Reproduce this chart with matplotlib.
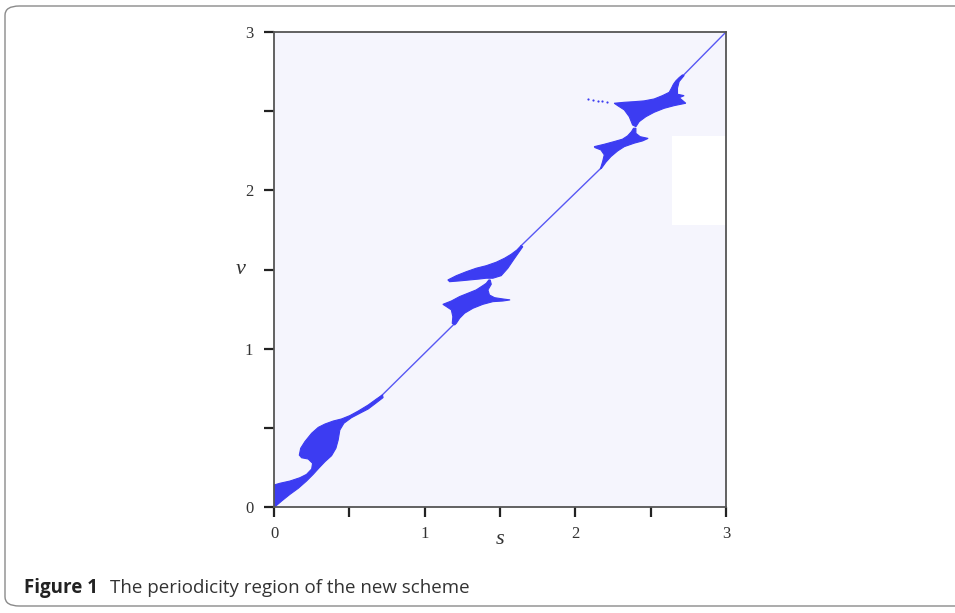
import numpy as np
import matplotlib.pyplot as plt
from matplotlib.patches import FancyBboxPatch, Rectangle

# outlines of the periodicity region as (s, v)
region_a_s = [0.000, 0.000, 0.040, 0.106, 0.172, 0.216, 0.250, 0.256, 0.227, 0.183,
              0.168, 0.177, 0.205, 0.250, 0.294, 0.338, 0.393, 0.448, 0.503, 0.559,
              0.625, 0.680, 0.720, 0.724, 0.675, 0.625, 0.570, 0.514, 0.464, 0.437,
              0.426, 0.411, 0.382, 0.338, 0.300, 0.260, 0.216, 0.161, 0.106, 0.051, 0.007]
region_a_v = [0.002, 0.139, 0.150, 0.164, 0.185, 0.206, 0.240, 0.276, 0.303, 0.311,
              0.328, 0.371, 0.413, 0.466, 0.503, 0.524, 0.543, 0.556, 0.577, 0.606,
              0.644, 0.682, 0.708, 0.691, 0.655, 0.619, 0.592, 0.564, 0.529, 0.486,
              0.423, 0.371, 0.324, 0.286, 0.248, 0.206, 0.164, 0.118, 0.080, 0.038, 0.002]

region_b1_s = [1.154, 1.210, 1.276, 1.342, 1.409, 1.475, 1.530, 1.574, 1.612, 1.640,
               1.651, 1.625, 1.589, 1.552, 1.508, 1.453, 1.409, 1.364, 1.298, 1.232, 1.166]
region_b1_v = [1.434, 1.461, 1.486, 1.508, 1.524, 1.546, 1.571, 1.596, 1.623, 1.651,
               1.644, 1.609, 1.560, 1.508, 1.461, 1.445, 1.445, 1.440, 1.434, 1.428, 1.423]

region_b2_s = [1.121, 1.177, 1.232, 1.287, 1.342, 1.386, 1.409, 1.426, 1.435, 1.442,
               1.420, 1.430, 1.464, 1.519, 1.567, 1.519, 1.453, 1.386, 1.320, 1.265,
               1.232, 1.210, 1.199, 1.183, 1.187, 1.177, 1.144]
region_b2_v = [1.280, 1.301, 1.329, 1.350, 1.371, 1.398, 1.413, 1.434, 1.434, 1.407,
               1.371, 1.339, 1.322, 1.314, 1.308, 1.301, 1.297, 1.280, 1.255, 1.224,
               1.192, 1.160, 1.150, 1.160, 1.202, 1.245, 1.266]

region_c1_s = [2.258, 2.325, 2.391, 2.457, 2.523, 2.578, 2.623, 2.638, 2.651, 2.667,
               2.689, 2.711, 2.722, 2.689, 2.678, 2.678, 2.722, 2.690, 2.733, 2.656,
               2.589, 2.523, 2.468, 2.424, 2.402, 2.380, 2.358, 2.325, 2.281]
region_c1_v = [2.550, 2.556, 2.560, 2.565, 2.577, 2.598, 2.619, 2.645, 2.670, 2.691,
               2.712, 2.729, 2.725, 2.687, 2.645, 2.607, 2.598, 2.585, 2.550, 2.535,
               2.518, 2.493, 2.465, 2.434, 2.402, 2.413, 2.465, 2.508, 2.535]

region_c2_s = [2.126, 2.192, 2.258, 2.313, 2.347, 2.373, 2.386, 2.402, 2.402, 2.430,
               2.483, 2.446, 2.391, 2.325, 2.281, 2.236, 2.203, 2.174, 2.166, 2.181,
               2.192, 2.170, 2.130]
region_c2_v = [2.276, 2.291, 2.308, 2.323, 2.344, 2.371, 2.392, 2.392, 2.360, 2.339,
               2.328, 2.312, 2.298, 2.276, 2.249, 2.213, 2.178, 2.140, 2.135, 2.181,
               2.224, 2.255, 2.270]

# thin strip along the diagonal between the blobs
strip_s = [[0.70, 1.19], [1.64, 2.17], [2.71, 3.00]]
strip_v = [[0.69, 1.15], [1.65, 2.14], [2.72, 3.00]]

# dotted tail left of the top blob
dots_s = [2.085, 2.118, 2.150, 2.180, 2.210]
dots_v = [2.578, 2.573, 2.567, 2.563, 2.560]

xticks = [0, 0.5, 1, 1.5, 2, 2.5, 3]
tick_labels = ['0', '', '1', '', '2', '', '3']

blue = '#3c3cf2'

fig = plt.figure(figsize=(9.55, 6.13), dpi=100)

# rounded frame round the figure and caption
frame = FancyBboxPatch((5 / 955, 7 / 613), 1.2, 600 / 613,
                       boxstyle='round,pad=0,rounding_size=0.015',
                       transform=fig.transFigure, fill=False,
                       edgecolor='#8a8a8a', linewidth=1.0)
fig.patches.append(frame)

ax = fig.add_axes([274 / 955, 1 - 507 / 613, 452 / 955, 475 / 613])
ax.set_facecolor('#f5f5fd')

for xs, vs in [(region_a_s, region_a_v), (region_b1_s, region_b1_v),
               (region_b2_s, region_b2_v), (region_c1_s, region_c1_v),
               (region_c2_s, region_c2_v)]:
    ax.fill(xs, vs, color=blue, linewidth=0.8, edgecolor=blue)

for xs, vs in zip(strip_s, strip_v):
    ax.plot(xs, vs, color=blue, linewidth=1.0, alpha=0.85)

ax.scatter(dots_s, dots_v, s=2.5, color=blue, linewidths=0)

# white patch in the upper right of the plot area
ax.add_patch(Rectangle((2.642, 1.781), 0.36, 0.564, facecolor='white',
                       edgecolor='none', zorder=0.5))

ax.set_xlim(0, 3)
ax.set_ylim(0, 3)
ax.set_xticks(xticks)
ax.set_xticklabels(tick_labels)
ax.set_yticks(xticks)
ax.set_yticklabels(tick_labels)

serif = ['Liberation Serif', 'DejaVu Serif']
ax.tick_params(direction='out', length=7, width=1.6, color='#222222',
               labelsize=12, labelcolor='#333333')
ax.tick_params(axis='x', pad=7)
ax.tick_params(axis='y', pad=8)
for lab in ax.get_xticklabels() + ax.get_yticklabels():
    lab.set_family(serif)

for sp in ax.spines.values():
    sp.set_color('#555555')
    sp.set_linewidth(1.3)

ax.set_xlabel('s', family=serif, style='italic', fontsize=16, color='#333333',
              labelpad=-9)
ax.set_ylabel('v', family=serif, style='italic', fontsize=16, color='#333333',
              rotation=0, labelpad=3, va='center')

fig.text(24 / 955, 1 - 588 / 613, 'Figure 1', family=['Open Sans', 'DejaVu Sans'],
         fontweight='bold', fontsize=13.5, va='center', color='#222222')
fig.text(110 / 955, 1 - 588 / 613, 'The periodicity region of the new scheme',
         family=['Open Sans', 'DejaVu Sans'], fontsize=13.5, va='center', color='#333333')

fig.savefig('out.png', dpi=100)
